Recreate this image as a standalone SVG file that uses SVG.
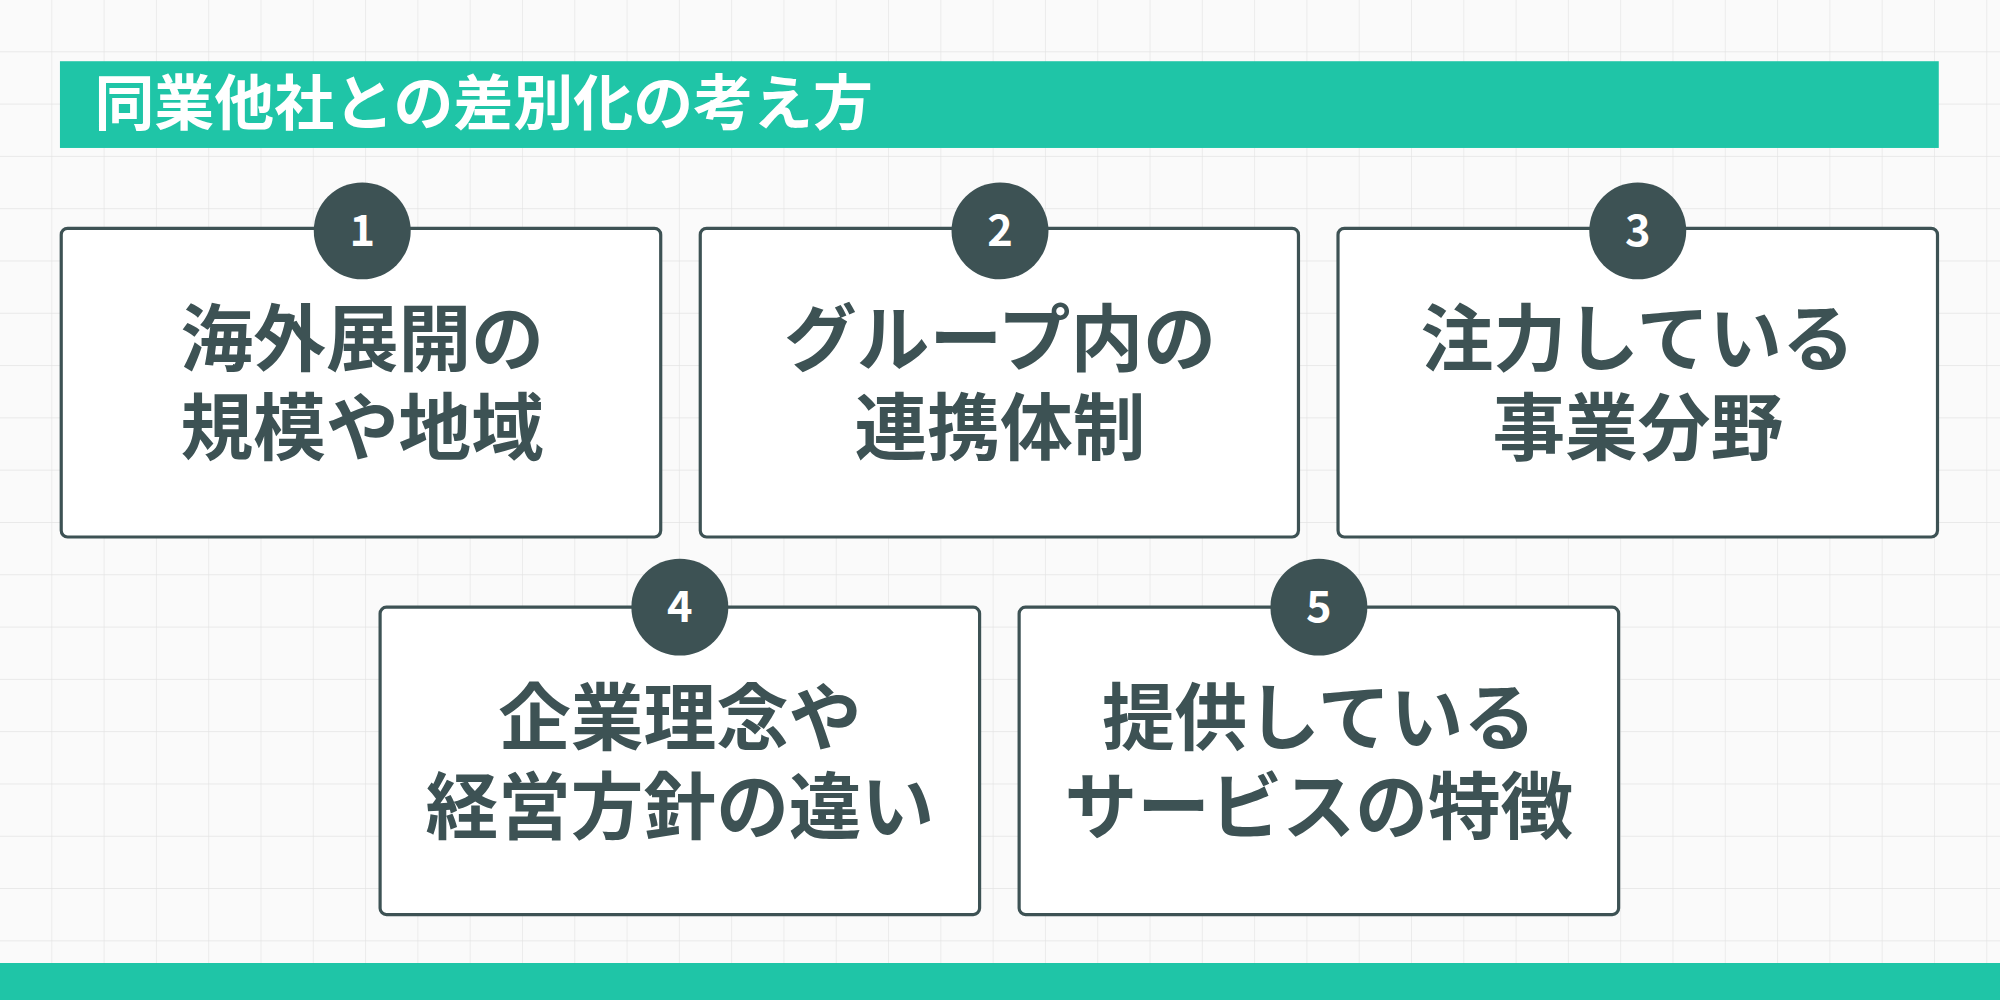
<svg xmlns="http://www.w3.org/2000/svg" width="2000" height="1000" viewBox="0 0 2000 1000">
<defs>
<pattern id="grid" width="41" height="41" patternUnits="userSpaceOnUse"><path d="M41 0V41H0" fill="none" stroke="#e3e3e3" stroke-width="1"/></pattern>
<style>
.box{fill:#fff;stroke:#3d5254;stroke-width:2.5}
.num{fill:#3d5254}
.nt{fill:#fff;font-family:"Noto Sans CJK JP","Noto Sans",sans-serif;font-weight:700;font-size:34px;text-anchor:middle}
.t{fill:#3d5254;font-family:"Noto Sans CJK JP",sans-serif;font-weight:700;font-size:57px;text-anchor:middle}
</style>
</defs>
<g transform="scale(1.27551)">
<rect width="1568" height="784" fill="#fafafa"/>
<rect width="1568" height="784" fill="url(#grid)"/>
<rect x="47" y="48" width="1473" height="68" fill="#1fc5a7"/>
<text x="74" y="98" fill="#fff" font-family="Noto Sans CJK JP,sans-serif" font-weight="700" font-size="47">同業他社との差別化の考え方</text>
<rect x="0" y="755" width="1568" height="29" fill="#1fc5a7"/>
<g id="n1"><rect class="box" x="48" y="179" width="470" height="242" rx="5"/><circle class="num" cx="284" cy="181" r="38"/><text class="nt" x="284" y="193">1</text><text class="t" x="284" y="286">海外展開の</text><text class="t" x="284" y="356">規模や地域</text></g>
<g id="n2"><rect class="box" x="549" y="179" width="469" height="242" rx="5"/><circle class="num" cx="784" cy="181" r="38"/><text class="nt" x="784" y="193">2</text><text class="t" x="784" y="286">グループ内の</text><text class="t" x="784" y="356">連携体制</text></g>
<g id="n3"><rect class="box" x="1049" y="179" width="470" height="242" rx="5"/><circle class="num" cx="1284" cy="181" r="38"/><text class="nt" x="1284" y="193">3</text><text class="t" x="1284" y="286">注力している</text><text class="t" x="1284" y="356">事業分野</text></g>
<g id="n4"><rect class="box" x="298" y="476" width="470" height="241" rx="5"/><circle class="num" cx="533" cy="476" r="38"/><text class="nt" x="533" y="488">4</text><text class="t" x="533" y="583">企業理念や</text><text class="t" x="533" y="653">経営方針の違い</text></g>
<g id="n5"><rect class="box" x="799" y="476" width="470" height="241" rx="5"/><circle class="num" cx="1034" cy="476" r="38"/><text class="nt" x="1034" y="488">5</text><text class="t" x="1034" y="583">提供している</text><text class="t" x="1034" y="653">サービスの特徴</text></g>
<g id="connectors"/>
</g>
</svg>
